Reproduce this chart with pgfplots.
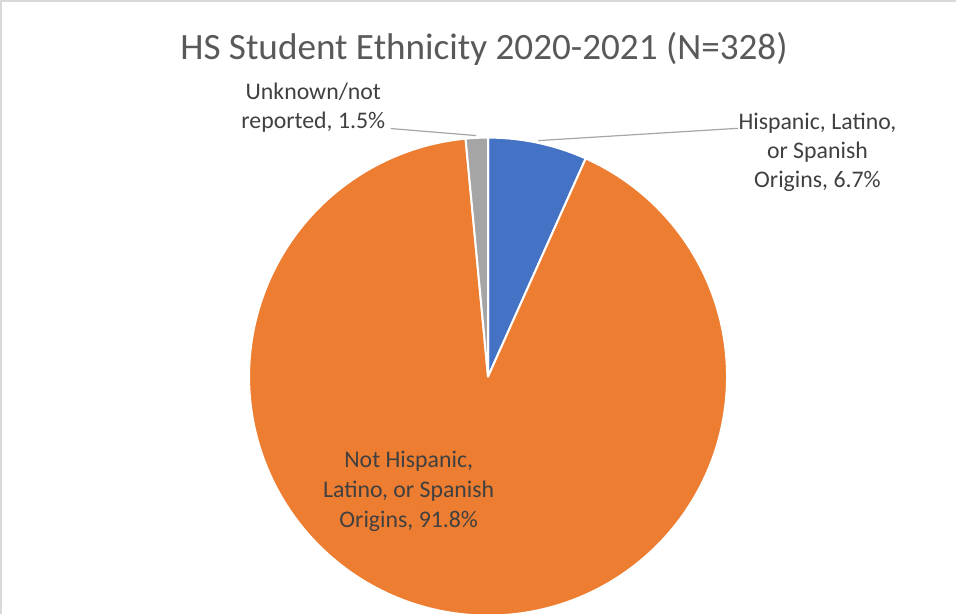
\documentclass[border=0pt]{standalone}
\usepackage{pgfplots}
\pgfplotsset{compat=1.18}
\usepackage{fontspec}
\setmainfont{Carlito}
\definecolor{cblue}{HTML}{4472C4}
\definecolor{corange}{HTML}{ED7D31}
\definecolor{cgray}{HTML}{A5A5A5}
\definecolor{ctext}{HTML}{404040}
\definecolor{ctitle}{HTML}{595959}
\definecolor{cframe}{HTML}{D9D9D9}
\definecolor{clead}{HTML}{A6A6A6}
% data (percent)
\def\pA{6.7}  % Hispanic, Latino, or Spanish Origins
\def\pB{91.8} % Not Hispanic, Latino, or Spanish Origins
\def\pC{1.5}  % Unknown/not reported
\pgfmathsetmacro\aA{3.6*\pA}
\pgfmathsetmacro\aB{\aA+3.6*\pB}
\pgfmathsetmacro\aC{\aB+3.6*\pC}
\begin{document}
\begin{tikzpicture}
\begin{axis}[width=956pt,height=616pt,scale only axis,
  xmin=0,xmax=956,ymin=0,ymax=616,y dir=reverse,hide axis,clip=true]
\addplot[draw=white,line width=2pt,line join=round,fill=cblue,domain=0:\aA,samples=40,variable=\t]
  ({490+238*sin(\t)},{380-238*cos(\t)}) -- (axis cs:490,380) -- cycle;
\addplot[draw=white,line width=2pt,line join=round,fill=corange,domain=\aA:\aB,samples=300,variable=\t]
  ({490+238*sin(\t)},{380-238*cos(\t)}) -- (axis cs:490,380) -- cycle;
\addplot[draw=white,line width=2pt,line join=round,fill=cgray,domain=\aB:\aC,samples=20,variable=\t]
  ({490+238*sin(\t)},{380-238*cos(\t)}) -- (axis cs:490,380) -- cycle;
% leader lines
\addplot[clead,line width=1.2pt] coordinates {(393,133) (478,140)};
\addplot[clead,line width=1.2pt] coordinates {(540,145) (735,133) (739,133)};
% frame
\addplot[cframe,line width=2pt] coordinates {(5,616) (5,6) (956,6)};
% title
\node[anchor=base,text=ctitle,inner sep=0pt,font=\fontsize{37}{44}\selectfont] at (axis cs:486,64) {HS Student Ethnicity 2020-2021 (N=328)};
% labels
\node[align=center,text=ctext,inner sep=0pt,font=\fontsize{23.7}{29}\selectfont] at (axis cs:316,112) {Unknown/not\\reported, 1.5\%};
\node[align=center,text=ctext,inner sep=0pt,font=\fontsize{23.7}{29}\selectfont] at (axis cs:818,157) {Hispanic, Latino,\\or Spanish\\Origins, 6.7\%};
\node[align=center,text=ctext,inner sep=0pt,font=\fontsize{23.7}{30}\selectfont] at (axis cs:411,494) {Not Hispanic,\\Latino, or Spanish\\Origins, 91.8\%};
\end{axis}
\end{tikzpicture}
\end{document}
